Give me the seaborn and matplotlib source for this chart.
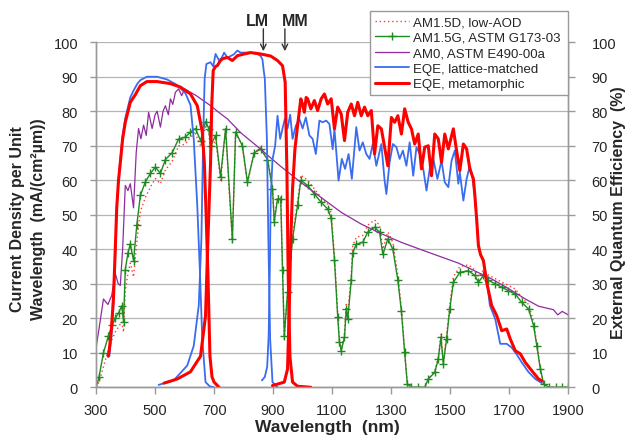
import numpy as np
import pandas as pd
import matplotlib
matplotlib.use("Agg")
import matplotlib.pyplot as plt
import seaborn as sns

# ── data ─────────────────────────────────────────────────────
# spectra: current density per unit wavelength, left axis
am15_nm = [300, 310, 325, 342, 355, 365, 376, 387, 393, 399, 408, 416, 427, 438, 450,
           467, 484, 501, 518, 535, 558, 580, 603, 620, 637, 654, 671, 682, 688, 705,
           722, 739, 762, 773, 796, 813, 836, 858, 881, 898, 904, 915, 926, 932, 938,
           949, 966, 983, 994, 1017, 1040, 1063, 1085, 1097, 1108, 1119, 1125, 1131,
           1142, 1148, 1153, 1165, 1170, 1182, 1204, 1221, 1244, 1261, 1272, 1289,
           1306, 1323, 1335, 1346, 1355, 1369, 1390, 1414, 1426, 1448, 1460, 1469,
           1477, 1488, 1499, 1511, 1533, 1562, 1584, 1596, 1613, 1630, 1653, 1675,
           1698, 1721, 1743, 1766, 1783, 1794, 1806, 1817, 1834, 1860, 1880, 1900]
am15g = [0, 3, 10, 15, 18, 20, 21.5, 23.6, 19, 34, 39, 41.5, 36.7, 47, 55.6,
         59.5, 62, 63.8, 62, 66, 68, 72, 72.5, 74, 75, 71.5, 77, 75, 70, 73,
         61, 75, 43, 74, 70, 59.5, 68, 69, 66, 57.5, 48, 54.6, 54.6, 34, 15,
         27.5, 43, 52.7, 60, 58.5, 56, 53.6, 51.7, 49, 37, 20.5, 13, 10.6,
         14.5, 22.7, 19.8, 31, 39, 41.5, 42, 45, 46.4, 45, 38.5, 43,
         40, 31, 22, 10.1, 1, 0, 0, 0, 2.4, 4.3, 8.2, 14.5,
         6.8, 14, 22.7, 30.4, 33.3, 33.8, 32.4, 30.4, 32.4, 31, 30, 29,
         28, 27, 24.6, 22.7, 17.9, 12, 5.3, 1, 0, 0, 0, 0]
am15d = [0, 1.5, 6, 11, 14, 16, 17.5, 19, 16, 28, 33, 36, 32, 42, 51,
         55, 58, 60.5, 59, 63, 65.5, 70, 70.5, 72.5, 73.5, 70, 75.5, 74, 68, 72,
         60, 74.5, 42, 73.5, 70, 59, 68, 69.5, 66.5, 58, 48, 55.5, 55.5, 34, 14,
         28, 44, 54, 61.5, 60, 57.5, 55, 53, 50.5, 38.5, 21.5, 13.5, 11,
         15.5, 24, 21, 33, 41, 43.5, 44, 47, 48.5, 47, 40, 45,
         42, 32.5, 23, 10.5, 1, 0, 0, 0, 2.5, 4.6, 8.8, 15.5,
         7.2, 15, 24, 32, 35, 35.5, 34, 32, 34, 32.5, 31.5, 30.5,
         29.5, 28.5, 26, 24, 19, 12.8, 5.6, 1, 0, 0, 0, 0]

am0_nm = [300, 310, 325, 340, 353, 365, 375, 382, 390, 399, 408, 416, 427, 436, 444,
          452, 461, 470, 478, 490, 500, 507, 518, 527, 535, 545, 552, 560, 569, 580,
          590, 600, 620, 640, 665, 690, 711, 745, 790, 858, 926, 994, 1063, 1131,
          1199, 1267, 1335, 1414, 1528, 1641, 1700, 1755, 1800, 1850, 1865, 1880, 1900]
am0 = [11.5, 17, 25.6, 24, 26.6, 33, 30, 29.5, 40, 58.5, 57, 59, 52, 68, 75,
       72, 76, 73, 79.7, 75, 79, 80, 75.4, 80, 81.6, 79, 83.6, 82, 85.5, 86.5,
       84.5, 86.5, 85.5, 84.5, 83, 81.5, 80, 77.8, 73.8, 69, 64, 59.4, 55, 50.7,
       47.3, 44.5, 42, 39.5, 36, 31.4, 28.5, 25.6, 23.5, 22.5, 21, 22, 21]

# EQE curves (%), right axis: top / middle / bottom subcells
lm_top_nm = [345, 352, 359, 365, 370, 376, 382, 390, 399, 416, 427, 440, 450, 472,
             507, 541, 575, 603, 620, 631, 643, 652, 660, 671, 685, 700]
lm_top = [9, 15, 24, 38, 52, 60, 66, 73, 78, 84, 86, 88, 89, 90,
          90, 89.2, 87.6, 85.2, 81.8, 72, 52.7, 33.3, 14, 1.5, 0.3, 0]
lm_mid_nm = [512, 563, 609, 631, 648, 657, 663, 668, 674, 688, 697, 705, 717, 726,
             734, 745, 756, 767, 779, 790, 802, 824, 847, 858, 864, 868, 872, 879,
             884, 890, 898, 915]
lm_mid = [0.7, 2, 6.3, 12, 23.7, 43, 72, 89.4, 93.7, 94.2, 93, 96.6, 94.7, 95.5,
          97, 95.5, 96, 96.5, 97.6, 97, 97, 97, 96.6, 96, 95, 92, 89.4, 72,
          43, 14, 1.5, 0]
lm_bot_nm = [862, 872, 880, 885, 889, 892, 898, 907, 915, 924, 932, 940, 949, 958,
             966, 977, 989, 1000, 1011, 1023, 1034, 1045, 1057, 1068, 1080, 1091,
             1102, 1108, 1122, 1133, 1144, 1156, 1167, 1182, 1193, 1204, 1216, 1227,
             1238, 1250, 1267, 1278, 1284, 1295, 1306, 1318, 1329, 1340, 1352, 1363,
             1375, 1386, 1397, 1409, 1420, 1431, 1443, 1457, 1471, 1482, 1494, 1505,
             1516, 1528, 1533, 1545, 1556, 1567, 1575, 1584, 1590, 1596, 1603, 1613,
             1624, 1635, 1653, 1670, 1692, 1709, 1726, 1743, 1766, 1789, 1811]
lm_bot = [2, 3, 6, 15, 35, 55, 66, 70, 78.7, 72, 75, 77.8, 75, 79,
          72, 75.8, 77.8, 75, 78.2, 73, 72, 67.6, 77.3, 76.8, 77.3, 76.3,
          69, 74.9, 59.9, 66.2, 63.3, 67.6, 60.4, 75.4, 68.6, 71, 67.6, 66.2,
          70.5, 64.2, 70.5, 59.9, 56, 65.2, 70.5, 69.6, 66.2, 68.6, 64.2, 71,
          61.3, 69.6, 67.6, 63.3, 57, 63.3, 66.2, 60.4, 65.7, 59.4, 58, 65.7,
          68.6, 59, 62.3, 54.1, 60.4, 64.2, 61.3, 55.6, 48.8, 41.1, 38.5, 36.7,
          31.4, 23.7, 19.8, 12.6, 12.6, 11.5, 9.5, 7.2, 4.4, 2.4, 1.2]

mm_top_nm = [341, 345, 352, 359, 365, 370, 376, 382, 390, 399, 416, 433, 450, 472, 507,
             552, 586, 620, 643, 660, 667, 673, 679, 686, 693, 700, 717]
mm_top = [9, 11, 17, 26, 40, 52, 60, 65, 72, 76.8, 82.6, 84.8, 87.4, 88.6, 88.6,
          88, 87, 85, 81.6, 74, 65, 50, 33, 9, 3, 1.5, 0]
mm_mid_nm = [530, 575, 620, 654, 671, 678, 682, 688, 692, 697, 705, 711, 720, 728, 745,
             762, 779, 802, 824, 858, 892, 915, 932, 941, 947, 951, 957, 966, 983, 1028]
mm_mid = [1.2, 2.4, 4.5, 9, 20.7, 40, 50, 65, 81.6, 91.8, 93, 93.2, 94.5, 95.2, 95.6,
          94.7, 96.1, 96.6, 97, 96.6, 96, 94.7, 93.2, 88.4, 62, 33.3, 9, 1.5, 0.3, 0]
mm_bot_nm = [898, 938, 949, 955, 960, 966, 974, 983, 994, 1000, 1006, 1012, 1017,
             1028, 1040, 1051, 1063, 1074, 1085, 1097, 1108, 1119, 1131, 1142, 1153,
             1165, 1176, 1187, 1199, 1210, 1221, 1233, 1244, 1255, 1267, 1278, 1289,
             1301, 1312, 1323, 1335, 1346, 1358, 1369, 1380, 1392, 1403, 1414, 1426,
             1437, 1448, 1460, 1471, 1482, 1494, 1511, 1522, 1533, 1545, 1556, 1567,
             1579, 1584, 1590, 1596, 1603, 1613, 1624, 1641, 1658, 1675, 1692, 1704,
             1721, 1738, 1755, 1777, 1800, 1811]
mm_bot = [0.5, 1.5, 5.3, 23.7, 43, 57.5, 69, 75.8, 83.6, 82, 79.7, 84, 83.6,
          80.7, 83.1, 80.2, 83.6, 85, 82.1, 83.6, 74.9, 81.2, 79.2, 71.5, 79.7,
          82.1, 78.7, 82.6, 78.7, 81.2, 78.7, 80.2, 67.6, 75.8, 74.9, 69.6, 64.2,
          78.2, 76.8, 78.7, 73.4, 80.7, 76.8, 74.9, 70.5, 73.4, 63.3, 69.6, 70,
          61.3, 73.4, 72, 65.2, 73.4, 69.1, 74.9, 68.6, 62.8, 70.5, 69.1, 63.3,
          60.4, 55.6, 48.8, 41.1, 38.5, 36.7, 30.4, 23.7, 20.8, 16.4, 16.9, 14,
          10.6, 9.7, 7.2, 4.8, 2.4, 1.9]

x_ticks = [300, 500, 700, 900, 1100, 1300, 1500, 1700, 1900]
y_ticks = [0, 10, 20, 30, 40, 50, 60, 70, 80, 90, 100]

# ── build tables ─────────────────────────────────────────────
spec = pd.DataFrame({"nm": am15_nm, "g": am15g, "d": am15d})
df_am0 = pd.DataFrame({"nm": am0_nm, "v": am0})


def cells(parts):
    rows = []
    for name, xs, ys in parts:
        rows.append(pd.DataFrame({"nm": xs, "eqe": ys, "cell": name}))
    return pd.concat(rows, ignore_index=True)


eqe_lm = cells([("top", lm_top_nm, lm_top), ("mid", lm_mid_nm, lm_mid), ("bot", lm_bot_nm, lm_bot)])
eqe_mm = cells([("top", mm_top_nm, mm_top), ("mid", mm_mid_nm, mm_mid), ("bot", mm_bot_nm, mm_bot)])

# ── plot ─────────────────────────────────────────────────────
sns.set_style("white")
plt.rcParams["font.family"] = ["Liberation Sans", "DejaVu Sans"]

GREEN = "#1f8a1f"

fig = plt.figure(figsize=(6.28, 4.39), dpi=100)
ax = fig.add_axes([0.153, 0.1155, 0.7516, 0.786])
ax2 = ax.twinx()

sns.lineplot(data=spec, x="nm", y="d", ax=ax, color="#ff3b3b", lw=1.0,
             label="AM1.5D, low-AOD", legend=False, estimator=None)
ax.lines[-1].set_linestyle((0, (1, 2)))
# seaborn paints marker edges white by default, so recolour the '+' marks
sns.lineplot(data=spec, x="nm", y="g", ax=ax, color=GREEN, lw=1.0,
             label="AM1.5G, ASTM G173-03", legend=False, estimator=None)
g_line = ax.lines[-1]
g_line.set_linestyle("-")
g_line.set_marker("+")
g_line.set_markersize(6)
g_line.set_markeredgewidth(1.0)
g_line.set_markeredgecolor(GREEN)
sns.lineplot(data=df_am0, x="nm", y="v", ax=ax, color="#8e2c9e", lw=0.9,
             label="AM0, ASTM E490-00a", legend=False, estimator=None)

for i, c in enumerate(["top", "mid", "bot"]):
    sns.lineplot(data=eqe_lm[eqe_lm.cell == c], x="nm", y="eqe", ax=ax2, color="#3a6cf0",
                 lw=1.3, label="EQE, lattice-matched" if i == 0 else None,
                 legend=False, estimator=None)
for i, c in enumerate(["top", "mid", "bot"]):
    sns.lineplot(data=eqe_mm[eqe_mm.cell == c], x="nm", y="eqe", ax=ax2, color="#ff0000",
                 lw=2.2, label="EQE, metamorphic" if i == 0 else None,
                 legend=False, estimator=None)

for a in (ax, ax2):
    a.set_xlim(300, 1900)
    a.set_ylim(0, 100)
    a.set_yticks(y_ticks)
    a.set_xlabel("")
    a.set_ylabel("")
    for s in a.spines.values():
        s.set_color("#9a9a9a")
        s.set_linewidth(1.0)
    a.spines["top"].set_visible(False)

ax.set_xticks(x_ticks)
ax.yaxis.grid(True, color="#b4b4b4", lw=0.9)
ax.set_axisbelow(True)
ax.tick_params(axis="y", left=True, length=4, width=1, color="#9a9a9a", pad=9, labelsize=10.5)
ax.tick_params(axis="x", bottom=True, length=5, width=1, color="#9a9a9a", pad=6, labelsize=10.5)
ax2.tick_params(axis="y", right=True, length=5, width=1, color="#9a9a9a", pad=12, labelsize=10.5)

fig.text(0.045, 0.5, "Current Density per Unit\nWavelength  (mA/(cm²µm))", rotation=90,
         ha="center", va="center", fontsize=11.5, fontweight="bold", linespacing=1.5)
fig.text(0.985, 0.515, "External Quantum Efficiency  (%)", rotation=90,
         ha="center", va="center", fontsize=11.5, fontweight="bold")
fig.text(0.521, 0.026, "Wavelength  (nm)", ha="center", va="center",
         fontsize=12.5, fontweight="bold")

# LM / MM arrows above the plot
for lab, xt, xa in [("LM", 848, 867), ("MM", 976, 940)]:
    ax.annotate("", xy=(xa, 96.6), xytext=(xa, 104.7),
                arrowprops=dict(arrowstyle="->", color="#333333", lw=1.0),
                annotation_clip=False)
    ax.text(xt, 106.3, lab, ha="center", va="center", fontsize=11.5,
            fontweight="bold", clip_on=False)

h1, l1 = ax.get_legend_handles_labels()
h2, l2 = ax2.get_legend_handles_labels()
leg = fig.legend(h1 + h2, l1 + l2, loc="upper left",
                 bbox_to_anchor=(0.589, 0.972, 0.316, 0.0), mode="expand",
                 borderaxespad=0, fontsize=9.5, handlelength=2.6, handletextpad=0.3,
                 labelspacing=0.25, borderpad=0.35, fancybox=False, framealpha=1,
                 edgecolor="#9a9a9a", markerfirst=True, numpoints=1)
leg.get_frame().set_linewidth(1.0)

fig.savefig("out.png", dpi=100)
